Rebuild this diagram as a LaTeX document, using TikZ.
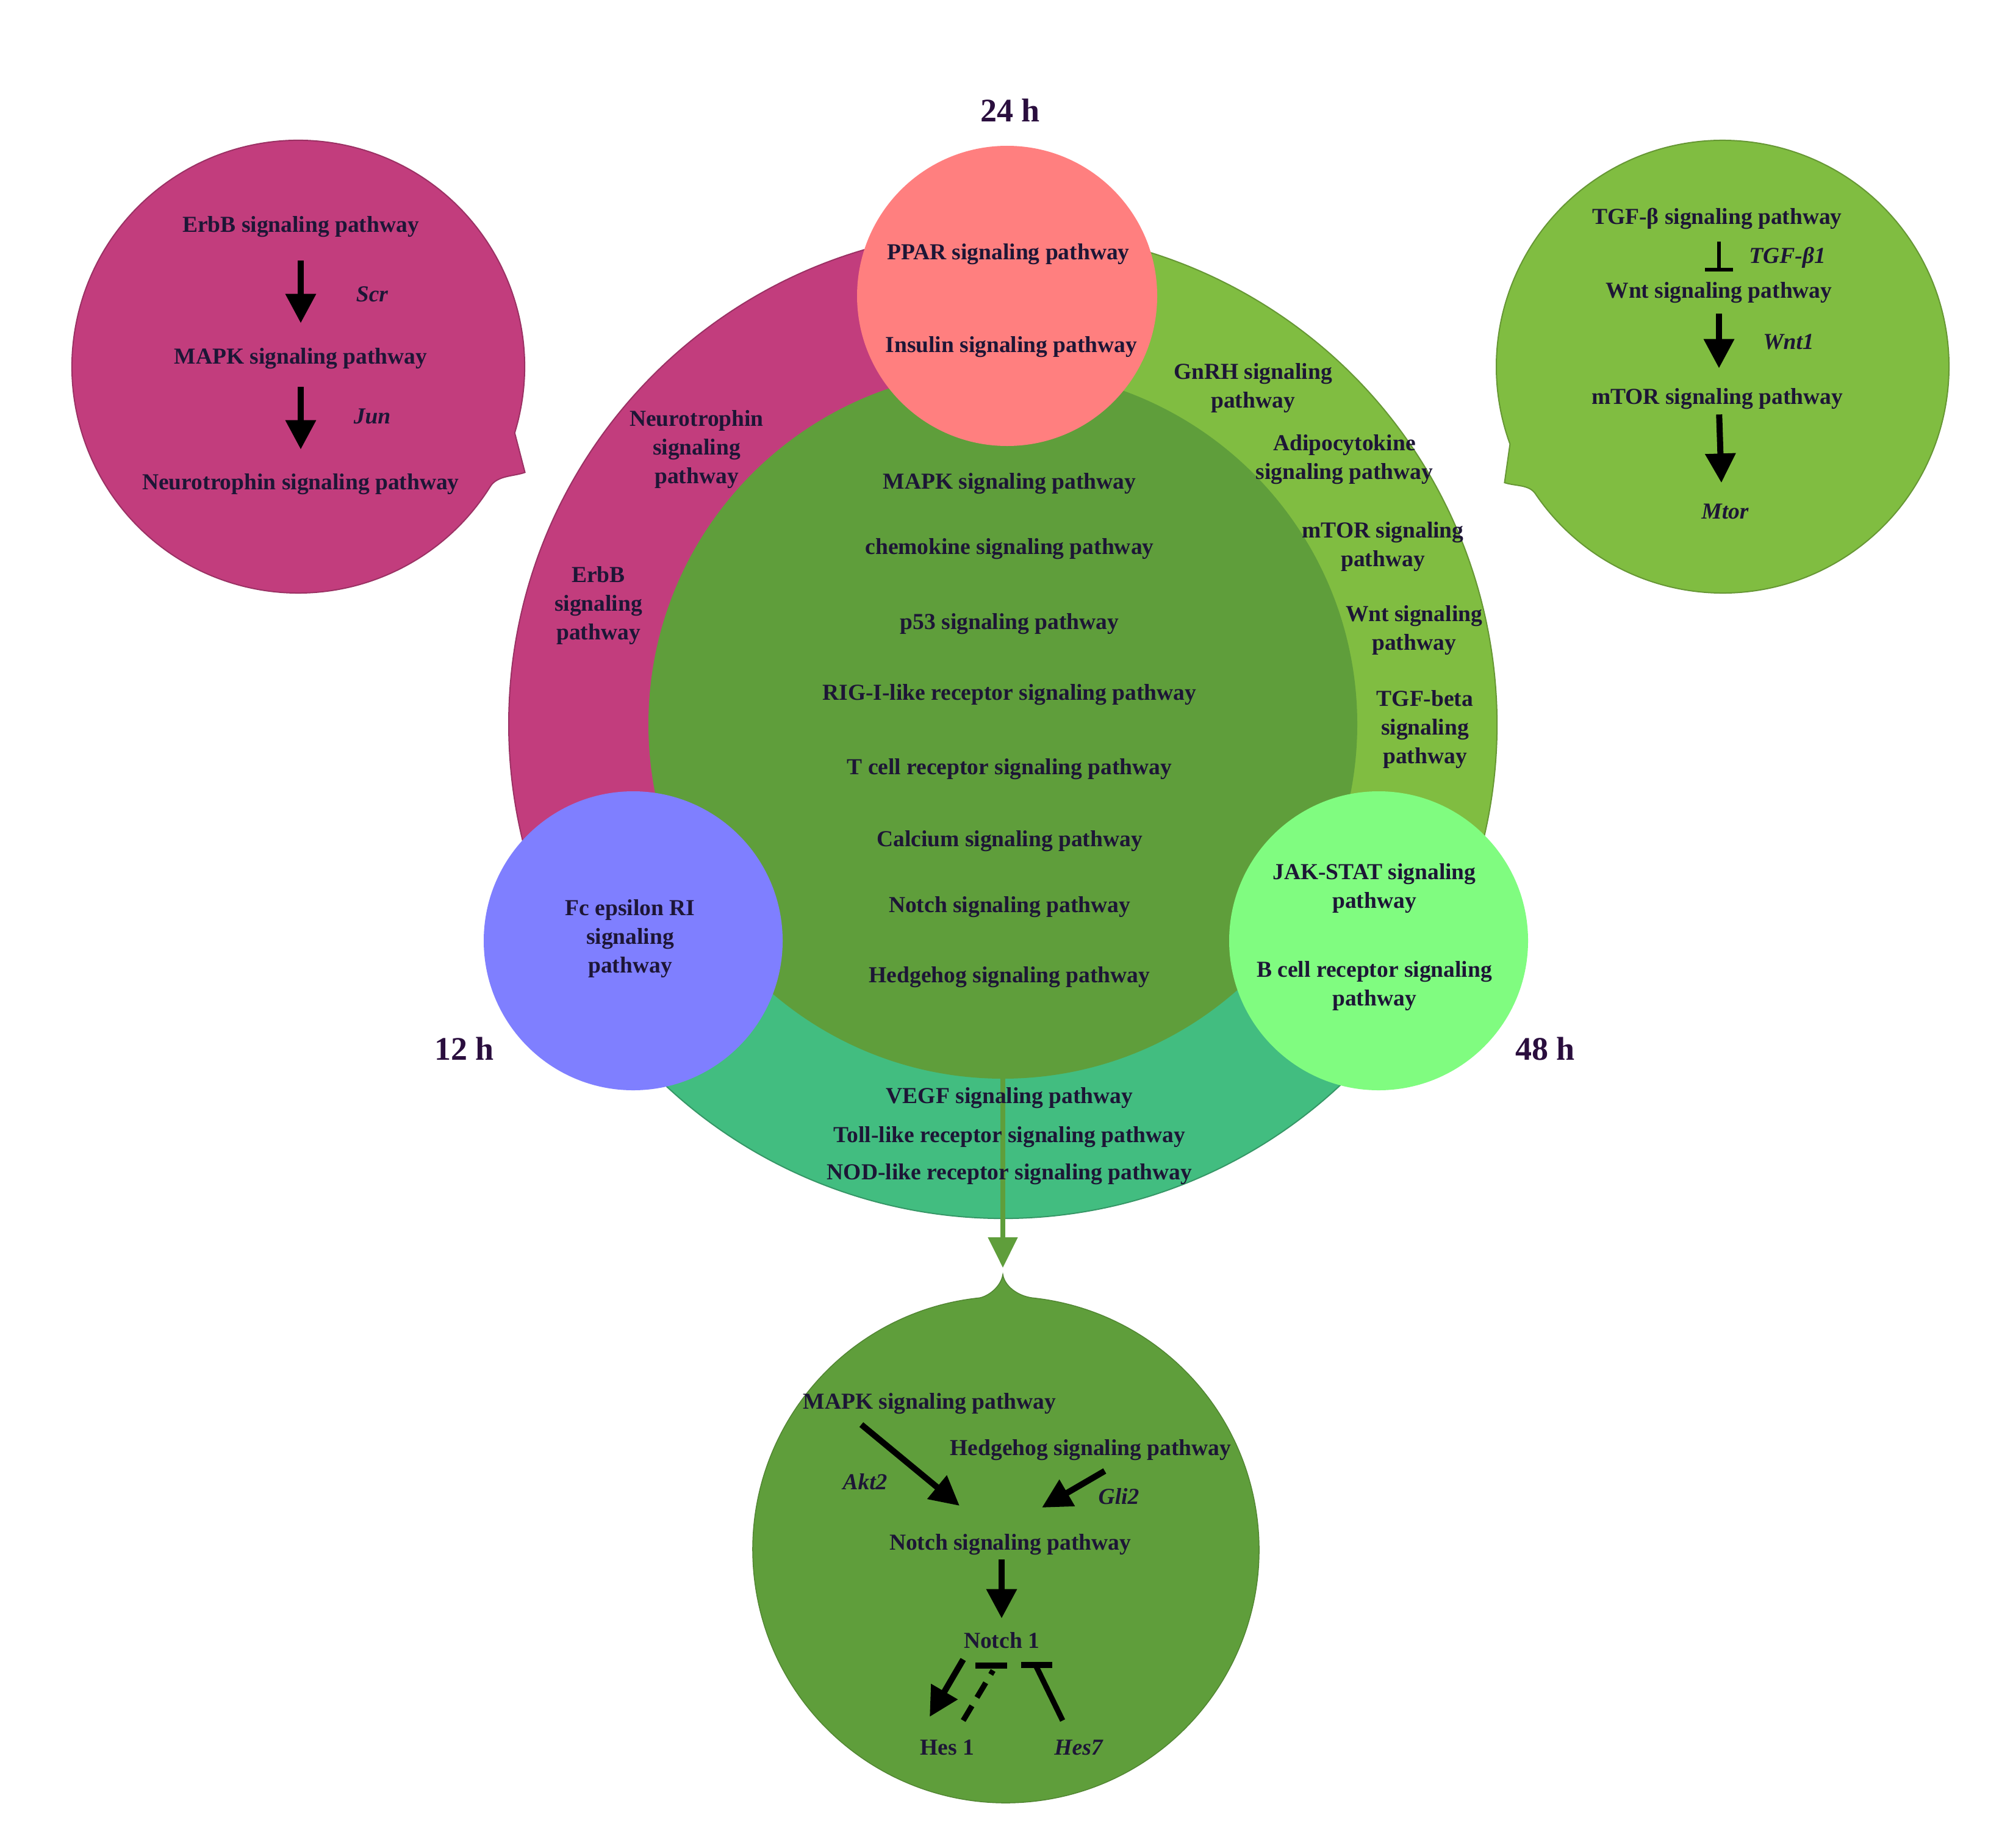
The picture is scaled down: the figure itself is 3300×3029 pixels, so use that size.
\documentclass[tikz,border=0pt]{standalone}
\usepackage{fontspec}
\setmainfont{Liberation Serif}
\usetikzlibrary{arrows.meta}
\definecolor{magC}{HTML}{C23D7D}
\definecolor{rgreen}{HTML}{80BD41}
\definecolor{innerG}{HTML}{5F9E3B}
\definecolor{tealC}{HTML}{42BD80}
\definecolor{pinkC}{HTML}{FF7F7F}
\definecolor{blueC}{HTML}{7F7FFF}
\definecolor{lgC}{HTML}{80FC80}
\definecolor{txtC}{HTML}{1D1636}
\definecolor{hC}{HTML}{2A0E3E}
\begin{document}
\begin{tikzpicture}[x=1pt,y=1pt,
  txt/.style={text=txtC, font=\fontsize{37.5}{47}\selectfont\bfseries, align=center, inner sep=0pt},
  gene/.style={text=txtC, font=\fontsize{37.5}{47}\selectfont\bfseries\itshape, inner sep=0pt},
  hour/.style={text=hC, font=\fontsize{54}{60}\selectfont\bfseries, inner sep=0pt},
  disc/.style={circle, inner sep=0pt, minimum size=#1},
  bigarrow/.style={draw=black, line width=10pt, -{Triangle[width=48pt,length=48pt]}},
  inhib/.style={draw=black, line width=6pt},
  tbar/.style={draw=black, line width=9pt},
]
\useasboundingbox (0,0) rectangle (3300,-3029);
\fill[white] (0,0) rectangle (3300,-3029);

% ---- outer ring sectors ----
\coordinate (C) at (1644,-1187);
\filldraw[fill=magC, draw=magC!80!black, line width=2pt] (C) -- ++(90:810) arc[start angle=90,end angle=210,radius=810] -- cycle;
\filldraw[fill=rgreen, draw=rgreen!80!black, line width=2pt] (C) -- ++(-30:810) arc[start angle=-30,end angle=90,radius=810] -- cycle;
\filldraw[fill=tealC, draw=tealC!80!black, line width=2pt] (C) -- ++(210:810) arc[start angle=210,end angle=330,radius=810] -- cycle;
\node[disc=1162pt, fill=innerG] (inner) at (C) {};

% ---- callouts ----
\filldraw[fill=magC, draw=magC!80!black, line width=2pt]
  (489,-601) ++(-17:371) arc[start angle=-17,end angle=328,radius=371]
  .. controls (815.3,-778.9) and (841.8,-781.1) .. (860.6,-774.3) -- cycle;
\filldraw[fill=rgreen, draw=rgreen!80!black, line width=2pt]
  (2824,-601) ++(214:371) arc[start angle=214,end angle=560,radius=371]
  -- (2466.4,-791.1) .. controls (2484,-797) and (2506,-794) .. (2516.4,-808.5) -- cycle;
\coordinate (btip) at (1644,-2089);
\filldraw[fill=innerG, draw=innerG!85!black, line width=1.5pt]
  (1649,-2540) ++(96:415) arc[start angle=96,end angle=444,radius=415]
  .. controls (1668,-2124) and (1647,-2108) .. (btip)
  .. controls (1641,-2108) and (1622,-2124) .. (1605.6,-2127.3) -- cycle;

% ---- big green arrow ----
\draw[innerG, line width=8pt, -{Triangle[width=47pt,length=50pt]}, shorten >=11pt] (inner.south) -- (btip);

% ---- small circles ----
\node[disc=492pt, fill=pinkC] (c24) at (1651,-485) {};
\node[disc=490pt, fill=blueC] (c12) at (1038,-1542) {};
\node[disc=490pt, fill=lgC] (c48) at (2260,-1542) {};

% ---- hour labels ----
\node[hour] (h24) at (1656,-181) {24 h};
\node[hour] (h12) at (761,-1719) {12 h};
\node[hour] (h48) at (2533,-1719) {48 h};

% ---- pink ----
\node[txt] (ppar) at (1653,-417) {PPAR signaling pathway};
\node[txt] (insulin) at (1658,-569) {Insulin signaling pathway};

% ---- magenta ring ----
\node[txt] (neuro) at (1142,-737) {Neurotrophin\\signaling\\pathway};
\node[txt] (erbb) at (981,-993) {ErbB\\signaling\\pathway};

% ---- green ring ----
\node[txt] (gnrh) at (2054,-636) {GnRH signaling\\pathway};
\node[txt] (adipo) at (2204,-753) {Adipocytokine\\signaling pathway};
\node[txt] (mtorr) at (2267,-896) {mTOR signaling\\pathway};
\node[txt] (wntr) at (2318,-1033) {Wnt signaling\\pathway};
\node[txt] (tgfr) at (2336,-1196) {TGF-beta\\signaling\\pathway};

% ---- inner disc ----
\node[txt] (i1) at (1655,-793) {MAPK signaling pathway};
\node[txt] (i2) at (1655,-900) {chemokine signaling pathway};
\node[txt] (i3) at (1655,-1023) {p53 signaling pathway};
\node[txt] (i4) at (1655,-1139) {RIG-I-like receptor signaling pathway};
\node[txt] (i5) at (1655,-1261) {T cell receptor signaling pathway};
\node[txt] (i6) at (1655,-1379) {Calcium signaling pathway};
\node[txt] (i7) at (1655,-1487) {Notch signaling pathway};
\node[txt] (i8) at (1655,-1602) {Hedgehog signaling pathway};

% ---- teal ----
\node[txt] (v1) at (1655,-1800) {VEGF signaling pathway};
\node[txt] (v2) at (1655,-1864) {Toll-like receptor signaling pathway};
\node[txt] (v3) at (1655,-1925) {NOD-like receptor signaling pathway};

% ---- blue / light green circles ----
\node[txt] (fc) at (1033,-1539) {Fc epsilon RI\\signaling\\pathway};
\node[txt] (jak) at (2253,-1456) {JAK-STAT signaling\\pathway};
\node[txt] (bcr) at (2253,-1616) {B cell receptor signaling\\pathway};

% ---- left callout ----
\node[txt] (e1) at (493,-372) {ErbB signaling pathway};
\node[txt] (e2) at (493,-588) {MAPK signaling pathway};
\node[txt] (e3) at (493,-794) {Neurotrophin signaling pathway};
\node[gene] (scr) at (610,-482) {Scr};
\node[gene] (jun) at (610,-682) {Jun};
\draw[bigarrow, shorten <=38pt, shorten >=41pt] (e1.south) -- (e2.north);
\draw[bigarrow, shorten <=29pt, shorten >=40pt] (e2.south) -- (e3.north);

% ---- right callout ----
\node[txt] (t1) at (2815,-358) {TGF-β signaling pathway};
\node[txt] (t2) at (2818,-480) {Wnt signaling pathway};
\node[txt] (t3) at (2815,-654) {mTOR signaling pathway};
\node[gene] (t4) at (2828,-838) {Mtor};
\node[gene] (tgfb1) at (2930,-422) {TGF-β1};
\node[gene] (wnt1) at (2932,-560) {Wnt1};
\draw[inhib, -{Bar[width=46pt]}, shorten <=20pt, shorten >=18pt] (t1.south -| t2.north) -- (t2.north);
\draw[bigarrow, shorten <=17pt, shorten >=33pt] (t2.south) -- (t2.south |- t3.north);
\draw[bigarrow, shorten <=8pt, shorten >=34pt] ([xshift=3pt]t3.south) -- ([xshift=-5pt]t4.north);

% ---- bottom callout ----
\node[txt] (b1) at (1524,-2301) {MAPK signaling pathway};
\node[txt] (b2) at (1788,-2377) {Hedgehog signaling pathway};
\node[txt] (b3) at (1656,-2532) {Notch signaling pathway};
\node[txt] (b4) at (1642,-2689) {Notch 1};
\node[txt] (b5) at (1553,-2864) {Hes 1};
\node[gene] (b6) at (1768,-2864) {Hes7};
\node[gene] (akt) at (1418,-2429) {Akt2};
\node[gene] (gli) at (1834,-2453) {Gli2};
\coordinate (m1) at (1412,-2335);
\coordinate (m2) at (1573,-2468);
\coordinate (g1) at (1811,-2411);
\coordinate (g2) at (1708,-2471);
\draw[bigarrow] (m1) -- (m2);
\draw[bigarrow] (g1) -- (g2);
\draw[bigarrow, shorten <=7pt, shorten >=23pt] (b3.south -| b4.north) -- (b4.north);
\coordinate (n1a) at (1579,-2720);
\coordinate (n1b) at (1524,-2814);
\draw[bigarrow] (n1a) -- (n1b);
\coordinate (d1) at (1579,-2820);
\coordinate (d2) at (1628,-2738);
\draw[tbar, dash pattern=on 28pt off 16pt] (d1) -- (d2);
\coordinate (d3) at (1599,-2730);
\coordinate (d4) at (1651,-2730);
\draw[draw=black, line width=10pt] (d3) -- (d4);
\coordinate (s1) at (1742,-2820);
\coordinate (s2) at (1699,-2732);
\draw[tbar] (s1) -- (s2);
\coordinate (s3) at (1674,-2729);
\coordinate (s4) at (1725,-2729);
\draw[draw=black, line width=10pt] (s3) -- (s4);
\end{tikzpicture}
\end{document}
